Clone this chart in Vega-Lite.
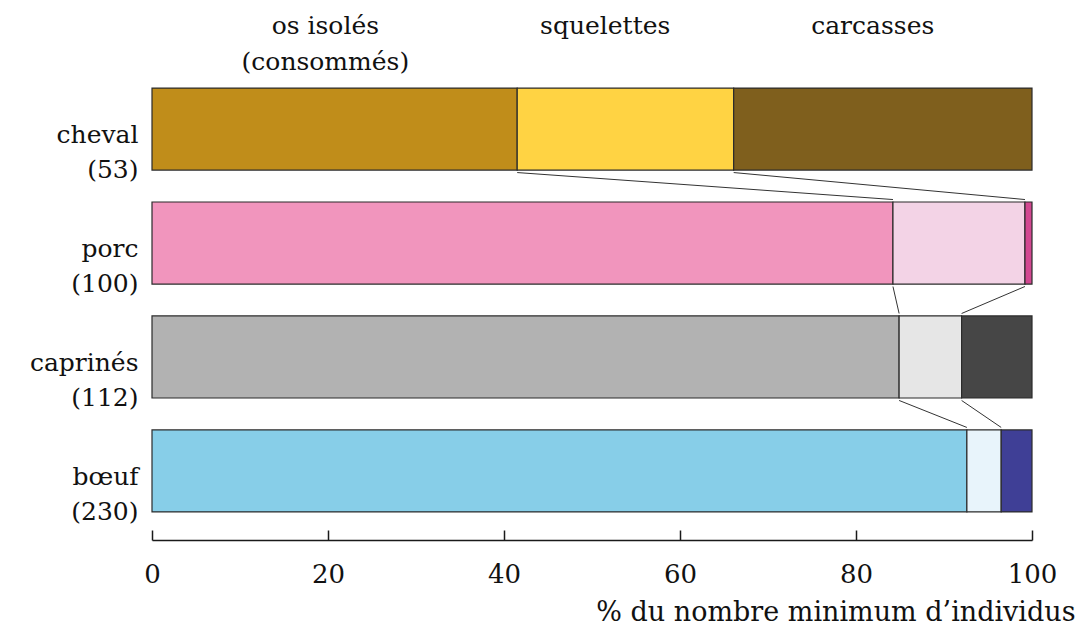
{
  "$schema": "https://vega.github.io/schema/vega-lite/v6.json",
  "width": 880,
  "height": 480,
  "autosize": {"type": "none"},
  "padding": {"left": 152, "top": 60, "right": 46, "bottom": 92},
  "config": {"font": "DejaVu Serif", "view": {"stroke": null}},
  "datasets": {
    "segments": [
      {"animal": "cheval (53)", "segment": "os isolés", "rang": 1, "groupe": "cheval · os isolés", "pct": 41.5},
      {"animal": "cheval (53)", "segment": "squelettes", "rang": 2, "groupe": "cheval · squelettes", "pct": 24.6},
      {"animal": "cheval (53)", "segment": "carcasses", "rang": 3, "groupe": "cheval · carcasses", "pct": 33.9},
      {"animal": "porc (100)", "segment": "os isolés", "rang": 1, "groupe": "porc · os isolés", "pct": 84.2},
      {"animal": "porc (100)", "segment": "squelettes", "rang": 2, "groupe": "porc · squelettes", "pct": 15.0},
      {"animal": "porc (100)", "segment": "carcasses", "rang": 3, "groupe": "porc · carcasses", "pct": 0.8},
      {"animal": "caprinés (112)", "segment": "os isolés", "rang": 1, "groupe": "caprinés · os isolés", "pct": 84.9},
      {"animal": "caprinés (112)", "segment": "squelettes", "rang": 2, "groupe": "caprinés · squelettes", "pct": 7.1},
      {"animal": "caprinés (112)", "segment": "carcasses", "rang": 3, "groupe": "caprinés · carcasses", "pct": 8.0},
      {"animal": "bœuf (230)", "segment": "os isolés", "rang": 1, "groupe": "bœuf · os isolés", "pct": 92.6},
      {"animal": "bœuf (230)", "segment": "squelettes", "rang": 2, "groupe": "bœuf · squelettes", "pct": 3.9},
      {"animal": "bœuf (230)", "segment": "carcasses", "rang": 3, "groupe": "bœuf · carcasses", "pct": 3.5}
    ],
    "liens": [
      {"de": "cheval (53)", "vers": "porc (100)", "xa": 41.5, "xb": 84.2},
      {"de": "cheval (53)", "vers": "porc (100)", "xa": 66.1, "xb": 99.2},
      {"de": "porc (100)", "vers": "caprinés (112)", "xa": 84.2, "xb": 84.9},
      {"de": "porc (100)", "vers": "caprinés (112)", "xa": 99.2, "xb": 92.0},
      {"de": "caprinés (112)", "vers": "bœuf (230)", "xa": 84.9, "xb": 92.6},
      {"de": "caprinés (112)", "vers": "bœuf (230)", "xa": 92.0, "xb": 96.5}
    ],
    "entetes": [
      {"titre": "os isolés\n(consommés)", "pos": 19.7, "rangee": "cheval (53)"},
      {"titre": "squelettes", "pos": 51.5, "rangee": "cheval (53)"},
      {"titre": "carcasses", "pos": 81.9, "rangee": "cheval (53)"}
    ]
  },
  "layer": [
    {
      "data": {"name": "segments"},
      "mark": {"type": "bar", "stroke": "#2b2b2b", "strokeWidth": 1.2},
      "encoding": {
        "y": {
          "field": "animal",
          "type": "nominal",
          "scale": {"domain": ["cheval (53)", "porc (100)", "caprinés (112)", "bœuf (230)"], "paddingInner": 0.28, "paddingOuter": 0.246},
          "axis": {
            "title": null,
            "ticks": false,
            "domain": false,
            "labelFontSize": 25,
            "labelColor": "#111",
            "labelPadding": 14,
            "labelExpr": "split(datum.label, ' ')",
            "labelLineHeight": 35,
            "labelOffset": 6,
            "labelBaseline": "middle",
            "labelAlign": "right"
          }
        },
        "x": {
          "field": "pct",
          "type": "quantitative",
          "stack": "zero",
          "scale": {"domain": [0, 100], "nice": false},
          "axis": {
            "values": [0, 20, 40, 60, 80, 100],
            "grid": false,
            "tickSize": -10,
            "tickWidth": 1.5,
            "tickColor": "#1a1a1a",
            "domainColor": "#1a1a1a",
            "domainWidth": 1.5,
            "labelFontSize": 26,
            "labelColor": "#111",
            "labelPadding": 31,
            "labelFlush": false,
            "title": "% du nombre minimum d’individus",
            "titleFontSize": 27,
            "titleFontWeight": "normal",
            "titleColor": "#111",
            "titleX": 923,
            "titleY": 80,
            "titleAlign": "right",
            "titleBaseline": "alphabetic",
            "titleAnchor": "end"
          }
        },
        "order": {"field": "rang", "type": "quantitative"},
        "color": {
          "field": "groupe",
          "type": "nominal",
          "scale": {
            "domain": ["cheval · os isolés", "cheval · squelettes", "cheval · carcasses", "porc · os isolés", "porc · squelettes", "porc · carcasses", "caprinés · os isolés", "caprinés · squelettes", "caprinés · carcasses", "bœuf · os isolés", "bœuf · squelettes", "bœuf · carcasses"],
            "range": ["#C08D1A", "#FFD343", "#7F5F1D", "#F195BD", "#F3D3E6", "#D24891", "#B2B2B2", "#E6E6E6", "#464646", "#87CEE8", "#E8F4FB", "#3F3F96"]
          },
          "legend": null
        }
      }
    },
    {
      "data": {"name": "liens"},
      "mark": {"type": "rule", "color": "#333333", "strokeWidth": 1},
      "encoding": {
        "y": {"field": "de", "type": "nominal", "bandPosition": 1.03},
        "y2": {"field": "vers", "bandPosition": -0.03},
        "x": {"field": "xa", "type": "quantitative"},
        "x2": {"field": "xb"}
      }
    },
    {
      "data": {"name": "entetes"},
      "mark": {"type": "text", "fontSize": 25, "baseline": "alphabetic", "align": "center", "lineBreak": "\n", "lineHeight": 36, "dy": -54, "color": "#111"},
      "encoding": {
        "x": {"field": "pos", "type": "quantitative"},
        "y": {"field": "rangee", "type": "nominal", "bandPosition": 0},
        "text": {"field": "titre"}
      }
    }
  ]
}
